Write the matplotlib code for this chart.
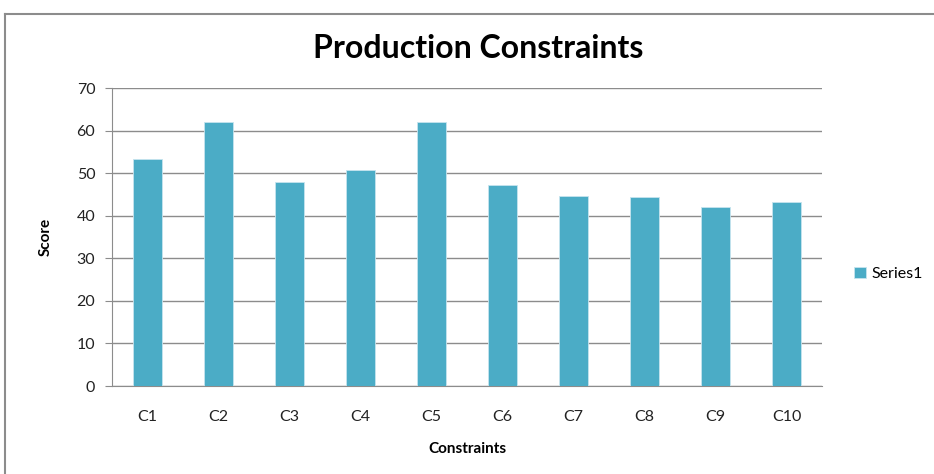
import matplotlib
matplotlib.use("Agg")
import matplotlib.pyplot as plt
from matplotlib.lines import Line2D

# data
constraints = ["C1", "C2", "C3", "C4", "C5", "C6", "C7", "C8", "C9", "C10"]
scores = [53.3, 62.0, 47.9, 50.7, 62.0, 47.3, 44.7, 44.5, 42.0, 43.2]
yticks = [0, 10, 20, 30, 40, 50, 60, 70]

plt.rcParams['font.family'] = ['Lato', 'DejaVu Sans']

fig = plt.figure(figsize=(9.34, 4.74), dpi=100)
ax = fig.add_axes([112/934, 1-386/474, 710/934, 298/474])

x = range(len(constraints))
ax.bar(x, scores, width=0.41, color="#4BACC6", edgecolor="#C6E4EE", linewidth=0.6,
       label="Series1", zorder=3)

ax.set_xlim(-0.5, len(constraints) - 0.5)
ax.set_ylim(0, 70)
ax.set_yticks(yticks)
ax.set_xticks(list(x))
ax.set_xticklabels(constraints)
ax.yaxis.grid(True, color="#8C8C8C", linewidth=1.0, zorder=0)
ax.tick_params(axis="x", length=0, pad=17, labelsize=11.5, colors="#222222")
ax.tick_params(axis="y", length=5, direction="out", color="#8C8C8C", labelsize=11.5,
               colors="#222222", pad=7)
for s in ["top", "right"]:
    ax.spines[s].set_visible(False)
ax.spines["left"].set_color("#8C8C8C")
ax.spines["bottom"].set_color("#8C8C8C")

ax.set_xlabel("Constraints", fontsize=11, fontweight="bold", labelpad=13)
ax.set_ylabel("Score", fontsize=11, fontweight="bold", labelpad=17)

fig.text(478/934, 1-49/474, "Production Constraints", ha="center", va="center",
         fontsize=23, fontweight="bold")

fig.legend(loc="center left", bbox_to_anchor=(840/934, 1-274/474), frameon=False,
           fontsize=11.5, handlelength=0.7, handleheight=0.7, handletextpad=0.4)

# outer chart frame
fig.add_artist(Line2D([5/934, 1], [1-14/474, 1-14/474], color="#8C8C8C", lw=1.5))
fig.add_artist(Line2D([5/934, 5/934], [0, 1-14/474], color="#8C8C8C", lw=1.5))

fig.savefig("out.png", dpi=100)
